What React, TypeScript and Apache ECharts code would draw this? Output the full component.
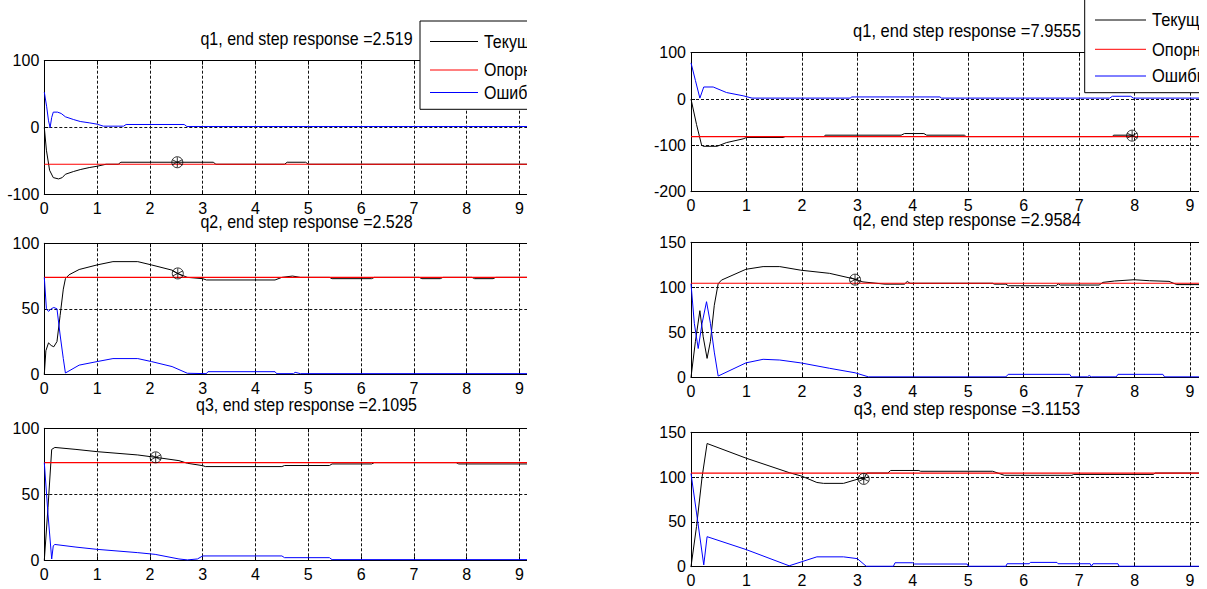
import React, { useEffect, useRef } from "react";
import * as echarts from "echarts";

// ---------- DATA ----------
const xTickMax = 10;

const L1_title = "q1, end step response =2.519";
const L1_ref = -55;
const L1_cur = [[0,0],[0.04,-34],[0.1,-64],[0.17,-75],[0.27,-77],[0.34,-75],[0.4,-70],[0.55,-66],[0.68,-63],[0.85,-60],[1.0,-58],[1.17,-55],[1.4,-55],[1.45,-52],[3.2,-52],[3.25,-55],[4.55,-55],[4.6,-52],[4.95,-52],[5.0,-55],[9.3,-55]];
const L1_err = [[0,53],[0.045,31],[0.08,10],[0.11,0],[0.14,15],[0.17,23],[0.25,23],[0.32,21],[0.4,16],[0.55,12],[0.68,9],[0.85,7],[1.0,5],[1.12,2],[1.5,2],[1.55,4.5],[2.65,4.5],[2.7,1.5],[9.3,1.5]];
const L1_mark = [2.519, -52];

const L2_title = "q2, end step response =2.528";
const L2_ref = 74;
const L2_cur = [[0,0],[0.03,18],[0.08,24],[0.13,22],[0.18,21],[0.24,25],[0.3,45],[0.36,65],[0.4,73],[0.47,76],[0.66,80],[1.0,83.5],[1.3,86],[1.77,86],[2.03,83.5],[2.42,79.5],[2.52,77],[2.71,74],[3.0,73],[3.07,72],[4.37,72],[4.5,74],[4.7,75],[4.85,74],[5.4,74],[5.45,73],[6.2,73],[6.25,74],[7.1,74],[7.15,73],[7.5,73],[7.55,74],[8.1,74],[8.15,73],[8.5,73],[8.55,74],[9.3,74]];
const L2_err = [[0,74],[0.04,50],[0.08,48],[0.13,50],[0.18,51],[0.24,50],[0.3,30],[0.36,12],[0.4,1],[0.66,7],[1.0,9.7],[1.3,12],[1.77,12],[2.03,9.7],[2.42,5.9],[2.71,0.8],[3.07,0.5],[3.1,2],[4.37,2],[4.4,0.5],[4.72,0.5],[4.75,1.5],[4.85,0.5],[9.3,0.5]];
const L2_mark = [2.528, 77];

const L3_title = "q3, end step response =2.1095";
const L3_ref = 74;
const L3_cur = [[0,0],[0.07,40],[0.14,84],[0.2,85.5],[0.6,84],[1.0,82.3],[1.77,79.8],[2.11,78],[2.55,75.5],[2.71,73.5],[3.0,71.7],[3.05,71],[4.5,71],[4.55,71.8],[5.4,71.8],[5.45,73],[6.2,73],[6.25,74],[7.8,74],[7.85,73],[9.3,73]];
const L3_err = [[0,74],[0.07,35],[0.14,1],[0.17,11],[0.2,12],[0.6,10],[1.0,8.3],[1.77,5.8],[2.1,4.5],[2.55,1],[2.71,0.3],[2.9,1],[3.0,3.3],[4.5,3.3],[4.55,2],[5.4,2],[5.45,0.5],[9.3,0.5]];
const L3_mark = [2.1095, 78];

const R1_title = "q1, end step response =7.9555";
const R1_ref = -81;
const R1_cur = [[0,0],[0.1,-55],[0.19,-99],[0.22,-102],[0.47,-102],[0.64,-94],[0.94,-86],[1.0,-83],[1.66,-83],[1.7,-81],[2.4,-81],[2.42,-78],[3.79,-78],[3.85,-74.5],[4.2,-74.5],[4.25,-78],[4.93,-78],[4.96,-81],[7.6,-81],[7.62,-78],[7.96,-78],[8.0,-81],[9.3,-81]];
const R1_err = [[0,78],[0.08,40],[0.16,2],[0.23,26],[0.4,26],[0.64,14],[0.94,7],[1.1,2],[2.87,2],[2.9,4.5],[4.49,4.5],[4.52,2],[7.55,2],[7.6,6],[7.93,6],[7.98,2],[9.3,2]];
const R1_mark = [7.9555, -79];

const R2_title = "q2, end step response =2.9584";
const R2_ref = 104.5;
const R2_cur = [[0,0],[0.08,40],[0.16,74],[0.22,45],[0.29,21],[0.35,40],[0.42,80],[0.49,104],[0.55,108],[0.99,120],[1.3,123],[1.6,123],[1.98,119],[2.5,115.5],[2.96,109],[3.1,106],[3.5,103.5],[3.85,103.5],[3.9,106.5],[3.95,104.5],[5.44,104.5],[5.47,103.5],[5.68,103.5],[5.72,101.7],[6.59,101.7],[6.62,104],[6.66,102.5],[7.36,102.5],[7.43,105.5],[7.64,107],[7.99,108.4],[8.27,107.3],[8.62,106.6],[8.76,103],[9.3,103]];
const R2_err = [[0,104],[0.06,60],[0.13,32],[0.2,60],[0.28,84],[0.35,60],[0.42,28],[0.49,1.4],[0.99,16],[1.3,20],[1.6,19.2],[1.98,16],[2.5,10],[2.96,5],[3.2,0.5],[5.68,0.5],[5.72,3.3],[6.83,3.3],[6.86,0.5],[7.15,0.5],[7.18,2],[7.22,0.5],[7.67,0.5],[7.7,3.3],[8.51,3.3],[8.54,0.5],[9.3,0.5]];
const R2_mark = [2.9584, 108.5];

const R3_title = "q3, end step response =3.1153";
const R3_ref = 104.5;
const R3_cur = [[0,0],[0.1,45],[0.2,100],[0.29,137.5],[1.0,121],[1.77,105],[2.0,101],[2.27,94],[2.39,93],[2.75,93],[3.05,98.5],[3.12,98],[3.17,104.5],[3.55,104.5],[3.6,107.4],[4.11,107.4],[4.14,106.5],[5.44,106.5],[5.65,102],[6.87,102],[6.9,103],[8.34,103],[8.37,104.5],[9.3,104.5]];
const R3_err = [[0,104],[0.1,60],[0.23,2],[0.29,33.5],[1.0,19],[1.77,1],[2.0,5.6],[2.27,11],[2.75,11],[3.0,9],[3.16,0.5],[3.65,0.5],[3.68,4.4],[4.0,4.4],[4.03,3],[4.98,3],[5.0,0.5],[5.68,0.5],[5.7,3.3],[6.1,3.3],[6.12,4.8],[6.6,4.8],[6.62,3.3],[7.2,3.3],[7.22,0.5],[7.25,3.3],[7.7,3.3],[7.72,0.5],[9.3,0.5]];
const R3_mark = [3.1153, 98];

const legendNames = ["Текущее", "Опорное", "Ошибка"];

const yRanges = {
  L1: [-100, 100, 100], L2: [0, 100, 50], L3: [0, 100, 50],
  R1: [-200, 100, 100], R2: [0, 150, 50], R3: [0, 150, 50],
};

// ---------- LAYOUT ----------
const FONT = "'Liberation Sans', Arial, Helvetica, sans-serif";
const STRETCH = 1.15;
const CANVAS_W = 1270;
const cols = [
  { x0: 44.3, unit: 52.8, font: 16, tfont: 16, titleX: 306.5, rows: [[60.7, 194.3], [243.3, 374.3], [428.3, 560.3]], titleY: [39, 222, 405] },
  { x0: 691, unit: 55.45, font: 16, tfont: 16.5, titleX: 967, rows: [[52.7, 191.7], [242.3, 377.3], [432.3, 566.7]], titleY: [31, 220, 409] },
];

const panels = [
  { col: 0, row: 0, title: L1_title, ref: L1_ref, cur: L1_cur, err: L1_err, mark: L1_mark, y: yRanges.L1 },
  { col: 0, row: 1, title: L2_title, ref: L2_ref, cur: L2_cur, err: L2_err, mark: L2_mark, y: yRanges.L2 },
  { col: 0, row: 2, title: L3_title, ref: L3_ref, cur: L3_cur, err: L3_err, mark: L3_mark, y: yRanges.L3 },
  { col: 1, row: 0, title: R1_title, ref: R1_ref, cur: R1_cur, err: R1_err, mark: R1_mark, y: yRanges.R1 },
  { col: 1, row: 1, title: R2_title, ref: R2_ref, cur: R2_cur, err: R2_err, mark: R2_mark, y: yRanges.R2 },
  { col: 1, row: 2, title: R3_title, ref: R3_ref, cur: R3_cur, err: R3_err, mark: R3_mark, y: yRanges.R3 },
];

const asterisk = "path://M0,-6L0,6M-5.2,-3L5.2,3M-5.2,3L5.2,-3";

function buildOption() {
  const grid: any[] = [];
  const xAxis: any[] = [];
  const yAxis: any[] = [];
  const series: any[] = [];
  const graphic: any[] = [];
  const dash = { color: "#111", type: [3, 2], width: 1 };

  panels.forEach((p, i) => {
    const c = cols[p.col];
    const [top, bottom] = c.rows[p.row];
    grid.push({ left: c.x0, top, width: c.unit * xTickMax, height: bottom - top, show: false });
    const axisLine = { show: true, onZero: false, lineStyle: { color: "#000", width: 1 } };
    const tick = { show: true, inside: true, length: 4, lineStyle: { color: "#000" } };
    xAxis.push({
      gridIndex: i, type: "value", min: 0, max: xTickMax, interval: 1, position: "bottom",
      axisLine, axisTick: tick,
      axisLabel: { show: true, showMaxLabel: false, color: "#000", fontSize: c.font, fontFamily: FONT, margin: 6 },
      splitLine: { show: true, lineStyle: dash },
    });
    xAxis.push({
      gridIndex: i, type: "value", min: 0, max: xTickMax, interval: 1, position: "top",
      axisLine, axisTick: tick, axisLabel: { show: false }, splitLine: { show: false },
    });
    yAxis.push({
      gridIndex: i, type: "value", min: p.y[0], max: p.y[1], interval: p.y[2],
      axisLine, axisTick: tick,
      axisLabel: { color: "#000", fontSize: c.font, fontFamily: FONT, margin: 5 },
      splitLine: { show: true, lineStyle: dash },
    });
    const common = { type: "line", xAxisIndex: 2 * i, yAxisIndex: i, showSymbol: false, symbol: "none", silent: true };
    series.push({ ...common, name: legendNames[0], data: p.cur, lineStyle: { color: "#000", width: 1 }, z: 3 });
    series.push({ ...common, name: legendNames[1], data: [[0, p.ref], [xTickMax, p.ref]], lineStyle: { color: "#ff0000", width: 1.2 }, z: 4 });
    series.push({ ...common, name: legendNames[2], data: p.err, lineStyle: { color: "#0000ff", width: 1 }, z: 5 });
    series.push({
      type: "scatter", xAxisIndex: 2 * i, yAxisIndex: i, data: [p.mark], symbol: "circle", symbolSize: 11,
      itemStyle: { color: "rgba(0,0,0,0)", borderColor: "#000", borderWidth: 1 }, z: 6, silent: true,
    });
    series.push({
      type: "scatter", xAxisIndex: 2 * i, yAxisIndex: i, data: [p.mark], symbol: asterisk, symbolSize: 10,
      itemStyle: { color: "none", borderColor: "#000", borderWidth: 1 }, z: 6, silent: true,
    });
    graphic.push({
      type: "text", x: c.titleX, y: c.titleY[p.row], z: 20, scaleY: STRETCH,
      style: { text: p.title, fontSize: c.tfont, fontFamily: FONT, fill: "#000", align: "center", verticalAlign: "middle" },
    });
  });

  // legends
  const legends = [
    { box: [420, 21, 200, 88.3], line: [430, 478], text: 484, ys: [41.5, 70, 92.5], font: 16 },
    { box: [1084.7, -5, 200, 97.7], line: [1095, 1146], text: 1152, ys: [20, 49.3, 76], font: 16.5 },
  ];
  const colors = ["#000", "#ff0000", "#0000ff"];
  legends.forEach((lg) => {
    graphic.push({
      type: "rect", z: 30, shape: { x: lg.box[0], y: lg.box[1], width: lg.box[2], height: lg.box[3] },
      style: { fill: "#fff", stroke: "#000", lineWidth: 1 },
    });
    legendNames.forEach((n, k) => {
      graphic.push({
        type: "line", z: 31, shape: { x1: lg.line[0], y1: lg.ys[k], x2: lg.line[1], y2: lg.ys[k] },
        style: { stroke: colors[k], lineWidth: 1 },
      });
      graphic.push({
        type: "text", z: 31, x: lg.text, y: lg.ys[k], scaleY: STRETCH,
        style: { text: n, fontSize: lg.font, fontFamily: FONT, fill: "#000", align: "left", verticalAlign: "middle" },
      });
    });
  });

  // crop covers (the original figures are cut at these edges)
  graphic.push({ type: "rect", z: 100, shape: { x: 527, y: 0, width: 121, height: 589 }, style: { fill: "#fff" } });
  graphic.push({ type: "rect", z: 100, shape: { x: 1199, y: 0, width: CANVAS_W - 1199, height: 589 }, style: { fill: "#fff" } });

  return { animation: false, backgroundColor: "#fff", grid, xAxis, yAxis, series, graphic };
}

export default function App() {
  const ref = useRef<HTMLDivElement>(null);
  useEffect(() => {
    if (!ref.current) return;
    const chart = echarts.init(ref.current, undefined, { renderer: "svg" });
    chart.setOption(buildOption() as any);
    return () => chart.dispose();
  }, []);
  return (
    <div style={{ position: "absolute", left: 0, top: 0, width: 1207, height: 589, overflow: "hidden", background: "#fff" }}>
      <div ref={ref} style={{ position: "absolute", left: 0, top: 0, width: CANVAS_W, height: 589 }} />
    </div>
  );
}
